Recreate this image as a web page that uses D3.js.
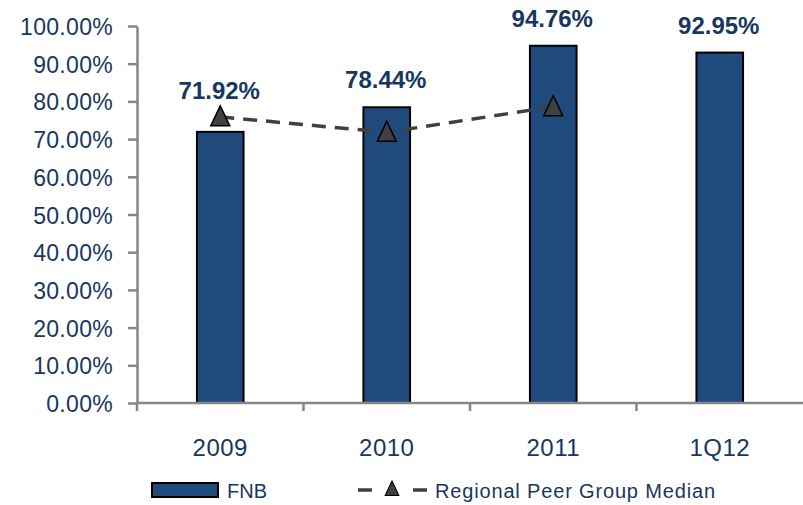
<!DOCTYPE html>
<html>
    <head>
        <title>FNB vs Regional Peer Group Median</title>
        <meta charset="utf-8">
        <style>
            html, body {
                margin: 0px;
                padding: 0px;
                background-color: #ffffff;
                font-family: "Liberation Sans", Arial, sans-serif;
            }

            svg text {
                fill: #17375e;
            }

            .axis .domain, .axis line {
                stroke: #868686;
                stroke-width: 2.5px;
            }

            .axis text {
                fill: #17375e;
                font-family: "Liberation Sans", Arial, sans-serif;
            }

            .bar {
                fill: #214a7c;
                stroke: #000;
                stroke-width: 2px;
            }

            .valueLabel {
                font-size: 24px;
                font-weight: bold;
                text-anchor: middle;
            }

            .median {
                fill: none;
                stroke: #404040;
                stroke-width: 3.5px;
                stroke-dasharray: 14 9;
            }

            .marker {
                fill: #404040;
                stroke: #000;
                stroke-width: 1.5px;
            }
        </style>
        <script src="https://cdnjs.cloudflare.com/ajax/libs/d3/7.8.5/d3.min.js"></script>
    </head>
    <body>
        <div id="main"></div>

        <script>
            var categories = ["2009", "2010", "2011", "1Q12"];
            var fnbValues = [71.92, 78.44, 94.76, 92.95];
            var medianValues = [75.9, 71.8, 78.6, null];
            var yTickValues = [0, 10, 20, 30, 40, 50, 60, 70, 80, 90, 100];
            var seriesNames = ["FNB", "Regional Peer Group Median"];

            var width = 803;
            var height = 505;
            var plotLeft = 137, plotRight = 803, plotTop = 26, plotBottom = 403;

            // triangle a bit taller than wide, like the reference
            var trianglePath = "M0,-11L9.5,9L-9.5,9Z";

            function main() {
                var svg = d3.select("#main")
                    .append("svg")
                    .attr("width", width)
                    .attr("height", height);

                var x = d3.scaleBand()
                    .domain(categories)
                    .range([plotLeft, plotRight])
                    .paddingInner(0.72)
                    .paddingOuter(0.36);

                var xEdges = d3.scaleBand()
                    .domain(categories)
                    .range([plotLeft, plotRight]);

                var y = d3.scaleLinear()
                    .domain([0, 100])
                    .range([plotBottom, plotTop]);

                // y axis
                var yAxis = svg.append("g")
                    .attr("class", "axis")
                    .attr("transform", "translate(" + plotLeft + ",0)")
                    .call(d3.axisLeft(y)
                        .tickValues(yTickValues)
                        .tickSize(9)
                        .tickSizeOuter(0)
                        .tickPadding(15)
                        .tickFormat(function(d) { return d3.format(".2f")(d) + "%"; }));
                yAxis.selectAll("text")
                    .style("font-size", "23px")
                    .style("letter-spacing", "0.3px")
                    .attr("dy", "0.37em");

                // bars
                var data = categories.map(function(c, i) {
                    return { cat: c, fnb: fnbValues[i], med: medianValues[i] };
                });

                svg.selectAll(".bar")
                    .data(data)
                    .enter()
                    .append("rect")
                    .attr("class", "bar")
                    .attr("x", function(d) { return x(d.cat); })
                    .attr("y", function(d) { return y(d.fnb); })
                    .attr("width", x.bandwidth())
                    .attr("height", function(d) { return y(0) - y(d.fnb); });

                // x axis, ticks on category edges
                var xAxis = svg.append("g")
                    .attr("class", "axis")
                    .attr("transform", "translate(0," + plotBottom + ")");
                xAxis.append("line")
                    .attr("class", "domain")
                    .attr("x1", plotLeft)
                    .attr("x2", plotRight)
                    .attr("y1", 0)
                    .attr("y2", 0);
                xAxis.selectAll(".tickMark")
                    .data(categories)
                    .enter()
                    .append("line")
                    .attr("x1", function(d) { return xEdges(d); })
                    .attr("x2", function(d) { return xEdges(d); })
                    .attr("y1", 0)
                    .attr("y2", 8);
                xAxis.selectAll(".catLabel")
                    .data(categories)
                    .enter()
                    .append("text")
                    .attr("x", function(d) { return x(d) + x.bandwidth() / 2; })
                    .attr("y", 53)
                    .style("text-anchor", "middle")
                    .style("font-size", "24px")
                    .style("letter-spacing", "0.5px")
                    .text(function(d) { return d; });

                // median line
                var medData = data.filter(function(d) { return d.med !== null; });
                var line = d3.line()
                    .x(function(d) { return x(d.cat) + x.bandwidth() / 2; })
                    .y(function(d) { return y(d.med); });

                svg.append("path")
                    .datum(medData)
                    .attr("class", "median")
                    .attr("d", line);

                svg.selectAll(".marker")
                    .data(medData)
                    .enter()
                    .append("path")
                    .attr("class", "marker")
                    .attr("transform", function(d) {
                        return "translate(" + (x(d.cat) + x.bandwidth() / 2) + "," + y(d.med) + ")";
                    })
                    .attr("d", trianglePath);

                // value labels, pushed above the marker when it sits over the bar
                svg.selectAll(".valueLabel")
                    .data(data)
                    .enter()
                    .append("text")
                    .attr("class", "valueLabel")
                    .attr("x", function(d) { return x(d.cat) + x.bandwidth() / 2 - 1; })
                    .attr("y", function(d) {
                        var ly = y(d.fnb) - 19;
                        if (d.med !== null) {
                            ly = Math.min(ly, y(d.med) - 18);
                        }
                        return ly;
                    })
                    .text(function(d) { return d3.format(".2f")(d.fnb) + "%"; });

                // legend
                var legend = svg.append("g")
                    .attr("transform", "translate(0,490)");

                legend.append("rect")
                    .attr("class", "bar")
                    .attr("x", 152)
                    .attr("y", -7)
                    .attr("width", 66)
                    .attr("height", 14);
                legend.append("text")
                    .attr("x", 227)
                    .attr("y", 8)
                    .style("font-size", "20px")
                    .text(seriesNames[0]);

                legend.append("line")
                    .attr("class", "median")
                    .attr("x1", 358)
                    .attr("x2", 427)
                    .attr("y1", 0)
                    .attr("y2", 0)
                    .style("stroke-dasharray", "14 41");
                legend.append("path")
                    .attr("class", "marker")
                    .attr("transform", "translate(392,-1) scale(0.72)")
                    .attr("d", trianglePath);
                legend.append("text")
                    .attr("x", 435)
                    .attr("y", 8)
                    .attr("textLength", 280)
                    .attr("lengthAdjust", "spacing")
                    .style("font-size", "20px")
                    .text(seriesNames[1]);
            }

            main();
        </script>
    </body>
</html>
